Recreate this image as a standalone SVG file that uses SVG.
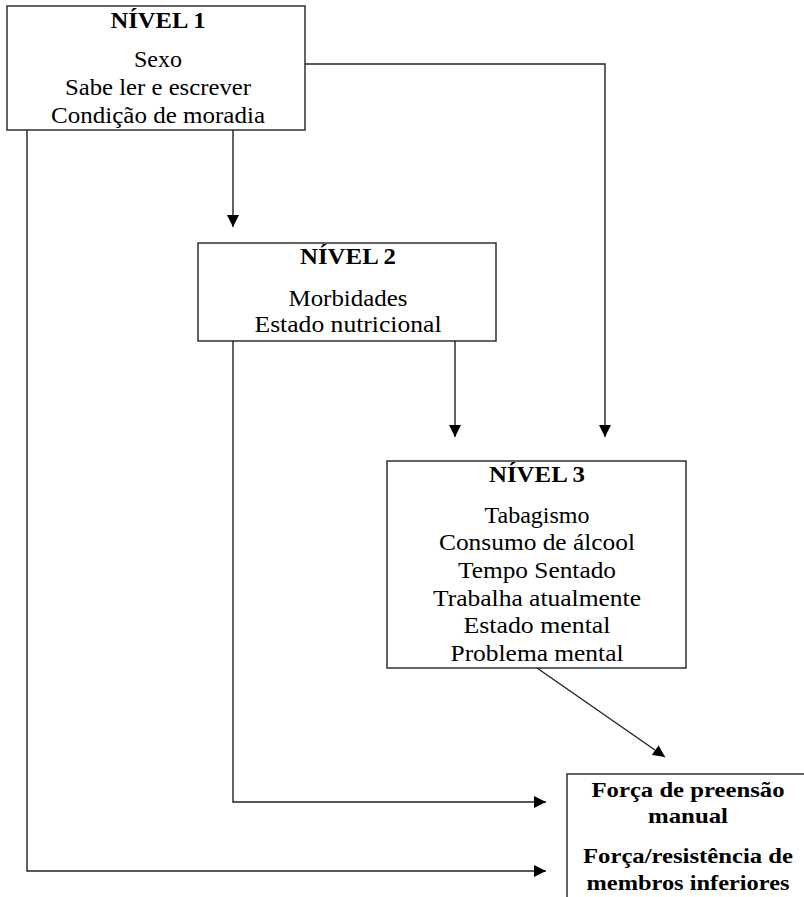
<svg xmlns="http://www.w3.org/2000/svg" width="804" height="897" viewBox="0 0 804 897">
<style>
.box{fill:#fff;stroke:#222;stroke-width:1.4}
.t{font-family:"Liberation Serif","Times New Roman",serif;font-size:22.5px;fill:#000;text-anchor:middle}
.h{font-weight:bold}
.b{font-family:"Liberation Serif","Times New Roman",serif;font-size:22px;font-weight:bold;fill:#000;text-anchor:middle}
.c{fill:none;stroke:#222;stroke-width:1.4}
</style>
<defs>
<marker id="ah" markerUnits="userSpaceOnUse" markerWidth="13" markerHeight="12" refX="12" refY="6" orient="auto">
<path d="M0,0 L12,6 L0,12 Z" fill="#000"/>
</marker>
</defs>
<rect width="804" height="897" fill="#fff"/>
<g id="connectors">
<path class="c" d="M305,64 H605 V437" marker-end="url(#ah)"/>
<path class="c" d="M233,130 V227" marker-end="url(#ah)"/>
<path class="c" d="M455,341 V437" marker-end="url(#ah)"/>
<path class="c" d="M537,668 L665,757" marker-end="url(#ah)"/>
<path class="c" d="M233,341 V802 H546" marker-end="url(#ah)"/>
<path class="c" d="M27,130 V871 H546" marker-end="url(#ah)"/>
</g>
<g id="nivel1">
<rect class="box" x="7" y="6" width="298" height="124"/>
<text class="t h" x="158" y="28" textLength="95" lengthAdjust="spacingAndGlyphs">NÍVEL 1</text>
<text class="t" x="158" y="67" textLength="48" lengthAdjust="spacingAndGlyphs">Sexo</text>
<text class="t" x="158" y="95" textLength="186" lengthAdjust="spacingAndGlyphs">Sabe ler e escrever</text>
<text class="t" x="158" y="123" textLength="214" lengthAdjust="spacingAndGlyphs">Condição de moradia</text>
</g>
<g id="nivel2">
<rect class="box" x="198" y="243" width="298" height="98"/>
<text class="t h" x="348" y="264" textLength="96" lengthAdjust="spacingAndGlyphs">NÍVEL 2</text>
<text class="t" x="348" y="306" textLength="119" lengthAdjust="spacingAndGlyphs">Morbidades</text>
<text class="t" x="348" y="332" textLength="187" lengthAdjust="spacingAndGlyphs">Estado nutricional</text>
</g>
<g id="nivel3">
<rect class="box" x="387" y="461" width="299" height="207"/>
<text class="t h" x="537" y="482" textLength="96" lengthAdjust="spacingAndGlyphs">NÍVEL 3</text>
<text class="t" x="537" y="523" textLength="105" lengthAdjust="spacingAndGlyphs">Tabagismo</text>
<text class="t" x="537" y="550" textLength="196" lengthAdjust="spacingAndGlyphs">Consumo de álcool</text>
<text class="t" x="537" y="578" textLength="158" lengthAdjust="spacingAndGlyphs">Tempo Sentado</text>
<text class="t" x="537" y="606" textLength="208" lengthAdjust="spacingAndGlyphs">Trabalha atualmente</text>
<text class="t" x="537" y="633" textLength="147" lengthAdjust="spacingAndGlyphs">Estado mental</text>
<text class="t" x="537" y="661" textLength="173" lengthAdjust="spacingAndGlyphs">Problema mental</text>
</g>
<g id="desfecho">
<rect class="box" x="567" y="774" width="300" height="200"/>
<text class="b" x="688" y="797" textLength="193" lengthAdjust="spacingAndGlyphs">Força de preensão</text>
<text class="b" x="688" y="823" textLength="80" lengthAdjust="spacingAndGlyphs">manual</text>
<text class="b" x="688" y="863" textLength="210" lengthAdjust="spacingAndGlyphs">Força/resistência de</text>
<text class="b" x="688" y="890" textLength="203" lengthAdjust="spacingAndGlyphs">membros inferiores</text>
</g>
</svg>
